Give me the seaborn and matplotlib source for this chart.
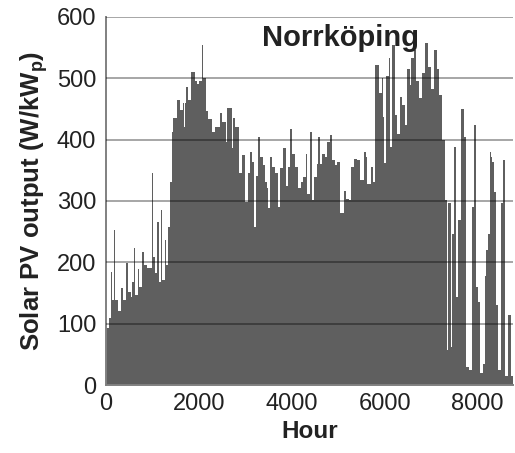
import numpy as np
import pandas as pd
import seaborn as sns
import matplotlib.pyplot as plt
from matplotlib.ticker import MultipleLocator

# start hour of each segment and the daily peak PV output (W/kWp)
hour_start = [0, 60, 97, 133, 176, 198, 254, 319, 370, 441, 463, 534, 570, 607, 628,
              678, 706, 785, 814, 872, 893, 986, 1008, 1059, 1087, 1130, 1180, 1216,
              1266, 1295, 1331, 1367, 1410, 1438, 1524, 1596, 1653, 1689, 1711, 1725,
              1775, 1825, 1911, 1948, 1969, 1991, 2012, 2077, 2098, 2156, 2206, 2277,
              2350, 2443, 2507, 2579, 2608, 2715, 2730, 2787, 2858, 2930, 3002, 3052,
              3102, 3138, 3196, 3239, 3275, 3311, 3375, 3432, 3468, 3497, 3526, 3583,
              3641, 3712, 3755, 3813, 3870, 3927, 3963, 4013, 4071, 4135, 4192, 4243,
              4300, 4336, 4401, 4429, 4480, 4537, 4558, 4601, 4659, 4717, 4767, 4824,
              4860, 4932, 4982, 5046, 5126, 5176, 5233, 5283, 5333, 5405, 5477, 5548,
              5606, 5628, 5699, 5750, 5800, 5879, 5936, 5957, 5993, 6036, 6086, 6122,
              6159, 6230, 6273, 6323, 6381, 6438, 6488, 6538, 6560, 6624, 6682, 6740,
              6797, 6869, 6926, 6990, 7063, 7134, 7170, 7227, 7291, 7334, 7371, 7421,
              7446, 7500, 7532, 7586, 7640, 7704, 7758, 7823, 7881, 7926, 7962, 8005,
              8048, 8113, 8156, 8188, 8225, 8259, 8281, 8292, 8318, 8350, 8404, 8436,
              8511, 8550, 8586, 8662, 8711]
pv_output = [93, 109, 185, 139, 253, 139, 120, 158, 139, 199, 152, 143, 168, 223, 146,
             189, 160, 217, 196, 213, 190, 345, 209, 182, 266, 168, 285, 171,
             236, 196, 258, 331, 413, 435, 465, 449, 460, 420, 460, 486,
             465, 511, 495, 465, 490, 440, 496, 554, 501, 447, 434, 413,
             421, 444, 428, 396, 452, 386, 435, 420, 345, 375, 299, 345,
             380, 364, 258, 340, 405, 372, 358, 331, 322, 288, 372, 356,
             345, 290, 353, 386, 325, 356, 418, 377, 356, 322, 331, 339,
             377, 311, 413, 301, 339, 360, 405, 361, 377, 372, 396, 408,
             367, 358, 364, 280, 317, 303, 301, 356, 369, 367, 334, 380,
             372, 328, 356, 331, 522, 476, 500, 437, 362, 503, 533, 388,
             554, 440, 410, 470, 457, 424, 516, 489, 533, 546, 496, 468,
             508, 557, 518, 483, 546, 516, 473, 399, 302, 57, 297, 62,
             247, 388, 144, 269, 450, 405, 30, 25, 291, 424, 160, 136,
             19, 35, 177, 220, 247, 380, 40, 372, 363, 315, 130, 24,
             296, 367, 14, 114, 14]
hour_end = 8760

df = pd.DataFrame({'hour': hour_start, 'pv': pv_output})
edges = hour_start + [hour_end]

sns.set_style("white")
plt.rcParams['font.family'] = ['Liberation Sans', 'DejaVu Sans']
plt.rcParams['mathtext.fontset'] = 'custom'
plt.rcParams['mathtext.rm'] = 'Liberation Sans'
plt.rcParams['mathtext.bf'] = 'Liberation Sans:bold'

fig = plt.figure(figsize=(5.15, 4.53), dpi=100)
ax = fig.add_axes([106 / 515, 68 / 453, 407 / 515, 368 / 453])

sns.histplot(data=df, x='hour', weights='pv', bins=edges, color='#5f5f5f',
             alpha=1, linewidth=0, edgecolor='none', ax=ax)

ax.set_xlim(0, hour_end)
ax.set_ylim(0, 600)
ax.yaxis.set_major_locator(MultipleLocator(100))
ax.yaxis.set_minor_locator(MultipleLocator(20))
ax.xaxis.set_major_locator(MultipleLocator(2000))
ax.xaxis.set_minor_locator(MultipleLocator(400))

for y in range(100, 700, 100):
    ax.axhline(y, color='black', alpha=0.35, lw=1.4, zorder=3)

ax.tick_params(axis='both', which='both', direction='in', colors='#808080',
               labelcolor='#222222', labelsize=17)
ax.tick_params(axis='y', which='major', length=6, pad=7)
ax.tick_params(axis='y', which='minor', length=4)
ax.tick_params(axis='x', which='major', length=6, pad=6)
ax.tick_params(axis='x', which='minor', length=4)

for side in ['left', 'bottom']:
    ax.spines[side].set_color('#808080')
    ax.spines[side].set_linewidth(1.4)
ax.spines['top'].set_visible(False)
ax.spines['right'].set_visible(False)

ax.set_xlabel('Hour', fontsize=17.5, fontweight='bold', color='#222222', labelpad=3)
ax.set_ylabel(r'Solar PV output (W/kW$_\mathbf{p}$)', fontsize=18.5,
              fontweight='bold', color='#222222', labelpad=5)
ax.text(0.575, 0.943, 'Norrköping', transform=ax.transAxes, ha='center', va='center',
        fontsize=21, fontweight='bold', color='#222222', zorder=5)

plt.savefig('out.png', dpi=100)
